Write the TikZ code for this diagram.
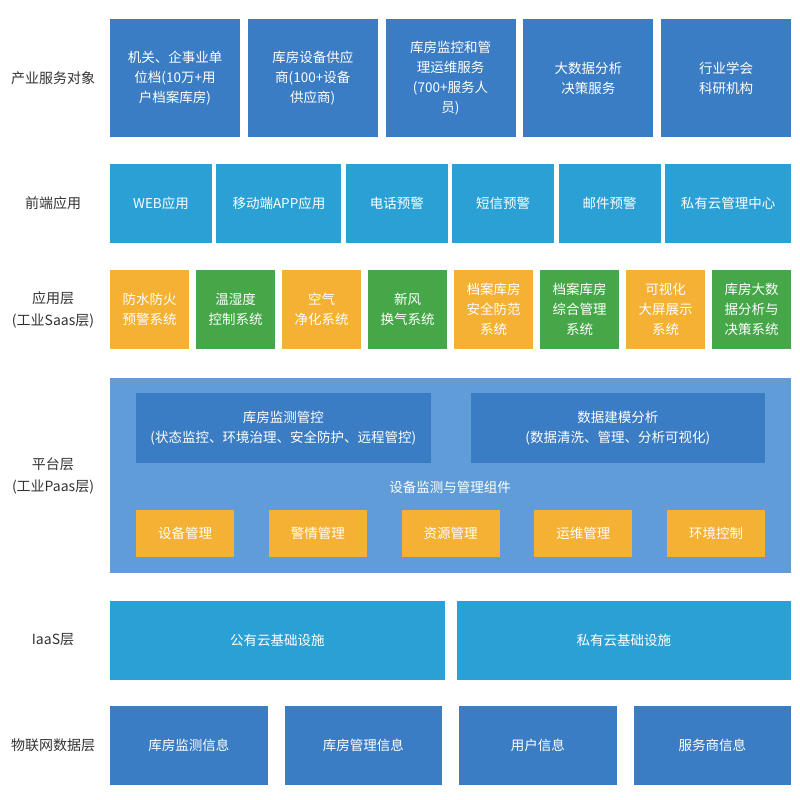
\documentclass[tikz,border=0pt]{standalone}
\usepackage{fontspec}
\setmainfont{Noto Sans CJK SC}
\usepackage{xcolor}
\definecolor{deepblue}{HTML}{3B7DC4}
\definecolor{skyblue}{HTML}{2AA0D4}
\definecolor{amber}{HTML}{F4B134}
\definecolor{leaf}{HTML}{45A748}
\definecolor{paasbg}{HTML}{609DD8}
\definecolor{labelgray}{HTML}{333333}
\usepackage{tikz}
\usetikzlibrary{positioning}

\begin{document}
\begin{tikzpicture}[
      x=1pt, y=-1pt,
      %% Shared look of every coloured box
      cell/.style={rectangle, inner sep=0pt, outer sep=0pt, align=center,
                   text=white, font=\fontsize{13.5}{19.8}\selectfont},
      %% One style per layer
      svc/.style={cell, fill=deepblue, minimum width=130pt, minimum height=118pt},
      front/.style={cell, fill=skyblue, minimum width=102pt, minimum height=79pt},
      appo/.style={cell, fill=amber, minimum width=79pt, minimum height=79pt},
      appg/.style={cell, fill=leaf, minimum width=79pt, minimum height=79pt},
      paas/.style={cell, fill=paasbg, minimum width=681pt, minimum height=195pt},
      core/.style={cell, fill=deepblue, minimum width=294.5pt, minimum height=70pt},
      comp/.style={cell, fill=amber, minimum width=98pt, minimum height=47pt},
      iaas/.style={cell, fill=skyblue, minimum width=334.5pt, minimum height=79pt},
      iot/.style={cell, fill=deepblue, minimum width=157.5pt, minimum height=79pt},
      %% Layer names in the left column
      layer/.style={align=center, text=labelgray, inner sep=0pt,
                    font=\fontsize{14}{22}\selectfont},
    ]

    \useasboundingbox[fill=white] (0,0) rectangle (800,800);

    %% ── Layer names ─────────────────────────────────────────────────────────
    \node[layer] (lblsvc)   at (53,78)  {产业服务对象};
    \node[layer] (lblfront) at (53,203) {前端应用};
    \node[layer] (lblsaas)  at (53,310) {应用层\\(工业Saas层)};
    \node[layer] (lblpaas)  at (53,476) {平台层\\(工业Paas层)};
    \node[layer] (lbliaas)  at (53,640) {IaaS层};
    \node[layer] (lbliot)   at (53,745) {物联网数据层};

    %% ── 产业服务对象 ────────────────────────────────────────────────────────
    \node[svc, anchor=north west] (svc1) at (110,19)
      {机关、企事业单\\位档(10万+用\\户档案库房)};
    \node[svc, right=7.75pt of svc1] (svc2) {库房设备供应\\商(100+设备\\供应商)};
    \node[svc, right=7.75pt of svc2] (svc3)
      {库房监控和管\\理运维服务\\(700+服务人\\员)};
    \node[svc, right=7.75pt of svc3] (svc4) {大数据分析\\决策服务};
    \node[svc, right=7.75pt of svc4] (svc5) {行业学会\\科研机构};

    %% ── 前端应用 ────────────────────────────────────────────────────────────
    \node[front, anchor=north west] (web) at (110,164) {WEB应用};
    \node[front, right=4.4pt of web, minimum width=125pt] (mobile) {移动端APP应用};
    \node[front, right=4.4pt of mobile] (phone) {电话预警};
    \node[front, right=4.4pt of phone]  (sms)   {短信预警};
    \node[front, right=4.4pt of sms]    (mail)  {邮件预警};
    \node[front, right=4.4pt of mail, minimum width=126pt] (cloudmgr) {私有云管理中心};

    %% ── 应用层 (工业Saas) ───────────────────────────────────────────────────
    \node[appo, anchor=north west] (fire) at (110,270) {防水防火\\预警系统};
    \node[appg, right=7pt of fire]   (temp)    {温湿度\\控制系统};
    \node[appo, right=7pt of temp]   (air)     {空气\\净化系统};
    \node[appg, right=7pt of air]    (vent)    {新风\\换气系统};
    \node[appo, right=7pt of vent]   (safe)    {档案库房\\安全防范\\系统};
    \node[appg, right=7pt of safe]   (archive) {档案库房\\综合管理\\系统};
    \node[appo, right=7pt of archive] (screen) {可视化\\大屏展示\\系统};
    \node[appg, right=7pt of screen] (bigdata) {库房大数\\据分析与\\决策系统};

    %% ── 平台层 (工业Paas) ───────────────────────────────────────────────────
    \node[paas, anchor=north west] (platform) at (110,378) {};
    \node[core, anchor=north west] (monitor) at (136,393)
      {库房监测管控\\(状态监控、环境治理、安全防护、远程管控)};
    \node[core, anchor=north west] (model) at (470.5,393)
      {数据建模分析\\(数据清洗、管理、分析可视化)};
    \node[cell] (kit) at (450,487) {设备监测与管理组件};
    \node[comp, anchor=north west] (device) at (136,510) {设备管理};
    \node[comp, right=34.75pt of device] (alarm)   {警情管理};
    \node[comp, right=34.75pt of alarm]  (res)     {资源管理};
    \node[comp, right=34.75pt of res]    (ops)     {运维管理};
    \node[comp, right=34.75pt of ops]    (env)     {环境控制};

    %% ── IaaS层 ──────────────────────────────────────────────────────────────
    \node[iaas, anchor=north west] (public) at (110,601) {公有云基础设施};
    \node[iaas, right=12pt of public] (private) {私有云基础设施};

    %% ── 物联网数据层 ────────────────────────────────────────────────────────
    \node[iot, anchor=north west] (monitorinfo) at (110,706) {库房监测信息};
    \node[iot, right=17pt of monitorinfo] (mgrinfo)  {库房管理信息};
    \node[iot, right=17pt of mgrinfo]     (userinfo) {用户信息};
    \node[iot, right=17pt of userinfo]    (vendor)   {服务商信息};
  \end{tikzpicture}
\end{document}
